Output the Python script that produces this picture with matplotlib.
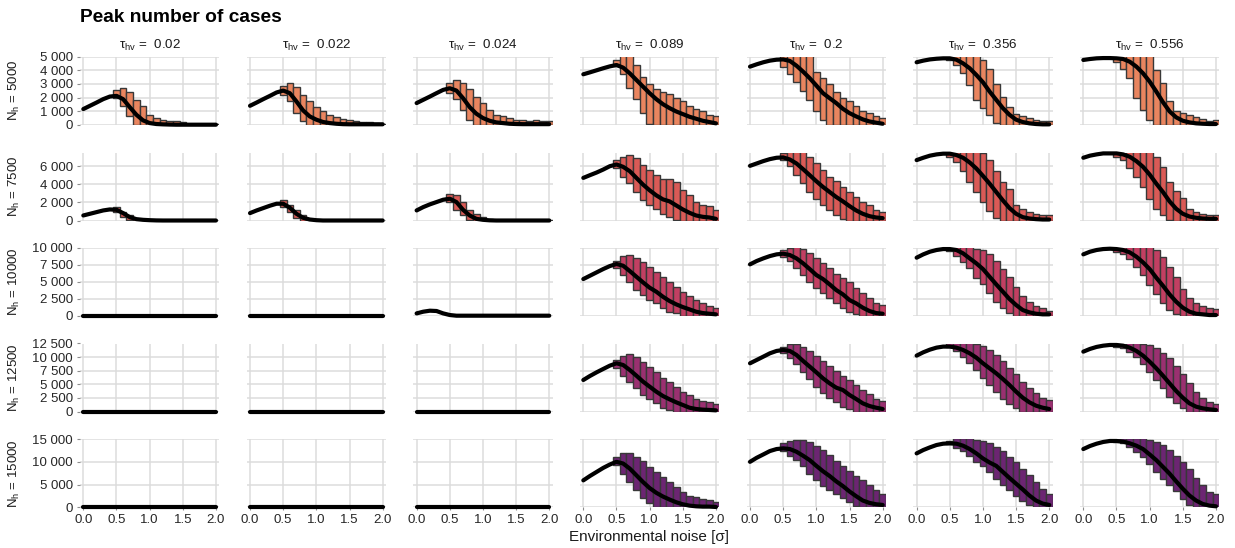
import matplotlib
matplotlib.use("Agg")
import matplotlib.pyplot as plt
from matplotlib.ticker import FuncFormatter

plt.rcParams['font.family'] = ['Liberation Sans', 'DejaVu Sans']
plt.rcParams['mathtext.fontset'] = 'custom'
plt.rcParams['mathtext.rm'] = 'Liberation Sans'
plt.rcParams['mathtext.it'] = 'Liberation Sans:italic'

# ---------------- data ----------------
TAU_LABELS = ["0.02", "0.022", "0.024", "0.089", "0.2", "0.356", "0.556"]
N_H = [5000, 7500, 10000, 12500, 15000]
Y_TICKS = [
    [0, 1000, 2000, 3000, 4000, 5000],
    [0, 2000, 4000, 6000],
    [0, 2500, 5000, 7500, 10000],
    [0, 2500, 5000, 7500, 10000, 12500],
    [0, 5000, 10000, 15000],
]
X_TICKS = [0.0, 0.5, 1.0, 1.5, 2.0]
X_LINE = [0.0, 0.1, 0.2, 0.3, 0.4, 0.5, 0.6, 0.7, 0.8, 0.9, 1.0,
          1.1, 1.2, 1.3, 1.4, 1.5, 1.6, 1.7, 1.8, 1.9, 2.0]
X_BOX = [0.5, 0.6, 0.7, 0.8, 0.9, 1.0, 1.1, 1.2, 1.3, 1.4, 1.5,
         1.6, 1.7, 1.8, 1.9, 2.0]
ZERO_LINE = [0, 0, 0, 0, 0, 0, 0, 0, 0, 0, 0, 0, 0, 0, 0, 0, 0, 0, 0, 0, 0]

# median line per row (N_h) for each tau column
LINE_T002 = [
    [1150, 1390, 1630, 1880, 2070, 2120, 1880, 1290, 730, 320, 120, 50, 25, 10, 0, 0, 0, 0, 0, 0, 0],
    [555, 740, 925, 1110, 1220, 1180, 815, 370, 150, 75, 35, 10, 0, 0, 0, 0, 0, 0, 0, 0, 0],
    ZERO_LINE, ZERO_LINE, ZERO_LINE,
]
LOW_T002 = [
    [1950, 1340, 610, 0, 0, 0, 0, 0, 0, 0, 0, 0, 0, 0, 0, 0],
    [925, 370, 75, 0, 0, 0, 0, 0, 0, 0, 0, 0, 0, 0, 0, 0],
    None, None, None,
]
HIGH_T002 = [
    [2560, 2680, 2370, 1830, 1340, 730, 490, 320, 290, 240, 170, 70, 50, 25, 70, 25],
    [1480, 925, 555, 185, 50, 30, 0, 0, 0, 0, 0, 0, 0, 0, 0, 0],
    None, None, None,
]

LINE_T0022 = [
    [1390, 1630, 1880, 2120, 2370, 2510, 2320, 1710, 1050, 610, 370, 200, 120, 70, 40, 30, 30, 30, 30, 30, 30],
    [815, 1110, 1370, 1630, 1850, 1850, 1410, 740, 300, 110, 35, 0, 0, 0, 0, 0, 0, 0, 0, 0, 0],
    ZERO_LINE, ZERO_LINE, ZERO_LINE,
]
LOW_T0022 = [
    [2200, 1710, 850, 240, 0, 0, 0, 0, 0, 0, 0, 0, 0, 0, 0, 0],
    [1480, 925, 300, 0, 0, 0, 0, 0, 0, 0, 0, 0, 0, 0, 0, 0],
    None, None, None,
]
HIGH_T0022 = [
    [2810, 3050, 2760, 2200, 1710, 1290, 980, 730, 560, 410, 320, 240, 200, 170, 120, 70],
    [2220, 1665, 1110, 555, 185, 50, 20, 0, 0, 0, 0, 0, 0, 0, 0, 0],
    None, None, None,
]

LINE_T0024 = [
    [1590, 1830, 2070, 2320, 2560, 2680, 2510, 1950, 1290, 810, 490, 290, 170, 120, 70, 50, 40, 40, 40, 40, 40],
    [1110, 1480, 1780, 2035, 2290, 2405, 2035, 1180, 555, 185, 75, 20, 0, 0, 0, 0, 0, 0, 0, 0, 0],
    [340, 590, 735, 690, 340, 100, 0, 0, 0, 0, 0, 0, 0, 0, 0, 0, 0, 0, 0, 0, 0],
    ZERO_LINE, ZERO_LINE,
]
LOW_T0024 = [
    [2320, 1880, 1100, 370, 0, 0, 0, 0, 0, 0, 0, 0, 0, 0, 0, 0],
    [2035, 1110, 555, 75, 0, 0, 0, 0, 0, 0, 0, 0, 0, 0, 0, 0],
    None, None, None,
]
HIGH_T0024 = [
    [3050, 3290, 3050, 2610, 2070, 1590, 1100, 730, 610, 490, 370, 320, 240, 370, 290, 240],
    [2885, 2775, 2035, 1180, 665, 370, 185, 110, 50, 50, 40, 40, 30, 30, 30, 30],
    None, None, None,
]

LINE_T0089 = [
    [3707, 3850, 4000, 4150, 4290, 4390, 4195, 3780, 3290, 2800, 2317, 1880, 1510, 1220, 975, 780, 585, 440, 290, 195, 100],
    [4700, 5000, 5290, 5620, 5990, 6180, 5920, 5440, 4700, 3960, 3330, 2775, 2330, 2110, 1665, 1220, 850, 555, 407, 333, 185],
    [5390, 5880, 6370, 6860, 7300, 7600, 7350, 6570, 5730, 4900, 4120, 3530, 2790, 2160, 1670, 1270, 930, 590, 390, 290, 200],
    [5790, 6530, 7200, 7820, 8430, 8860, 8550, 7630, 6590, 5490, 4570, 3650, 2850, 2240, 1690, 1200, 700, 460, 340, 280, 210],
    [5940, 6910, 7800, 8690, 9440, 10030, 9660, 8540, 7060, 5570, 4240, 3200, 2380, 1710, 1110, 670, 370, 220, 150, 150, 70],
]
LOW_T0089 = [
    [4340, 3700, 2730, 1900, 850, 50, 0, 0, 0, 0, 0, 0, 0, 0, 0, 0],
    [5810, 4810, 4180, 3145, 2220, 1740, 1295, 740, 370, 110, 0, 0, 0, 0, 0, 0],
    [7060, 5980, 4900, 3770, 3040, 2300, 1810, 1080, 590, 340, 0, 0, 0, 0, 0, 0],
    [8060, 6590, 5490, 4260, 3040, 2300, 1500, 700, 280, 0, 0, 0, 0, 0, 0, 0],
    [9440, 7430, 5570, 3720, 2010, 970, 0, 0, 0, 0, 0, 0, 0, 0, 0, 0],
]
HIGH_T0089 = [
    [4780, 5300, 5300, 4390, 3540, 2980, 2630, 2440, 2240, 1950, 1760, 1340, 1170, 975, 730, 610],
    [6660, 7030, 7215, 6845, 6100, 5550, 5070, 4625, 4550, 4255, 3330, 2775, 2035, 1740, 1590, 1110],
    [8040, 8770, 8920, 8530, 7940, 7200, 6470, 5730, 4900, 4260, 3530, 2940, 2300, 1810, 1420, 1180],
    [9470, 10270, 10510, 9960, 9160, 8250, 7200, 6220, 5360, 4570, 3650, 3040, 2300, 1930, 1690, 1320],
    [11150, 11890, 11890, 11150, 10180, 8920, 7800, 6690, 5570, 4460, 3340, 2600, 2230, 1860, 1710, 1260],
]

LINE_T02 = [
    [4270, 4440, 4590, 4710, 4780, 4800, 4690, 4340, 3900, 3420, 2880, 2320, 1950, 1590, 1170, 850, 610, 390, 240, 150, 70],
    [6030, 6290, 6550, 6770, 6920, 6960, 6730, 6290, 5660, 5000, 4330, 3700, 3145, 2590, 2110, 1590, 1110, 740, 480, 333, 260],
    [7550, 8040, 8430, 8770, 9020, 9120, 8920, 8430, 7700, 6860, 5980, 5390, 4610, 3770, 3140, 2300, 1810, 1180, 690, 390, 290],
    [8860, 9470, 10080, 10700, 11130, 11310, 11130, 10390, 9290, 8250, 7200, 6100, 5180, 4380, 3950, 3040, 2300, 1500, 1010, 700, 460],
    [10030, 10920, 11660, 12410, 12850, 13000, 12850, 12260, 11370, 10400, 9140, 7950, 6910, 5720, 4680, 3490, 2450, 1490, 970, 670, 520],
]
LOW_T02 = [
    [4270, 3710, 3120, 2490, 1830, 980, 370, 0, 0, 0, 0, 0, 0, 0, 0, 0],
    [6660, 6030, 5070, 4180, 3145, 2330, 1665, 1110, 555, 185, 0, 0, 0, 0, 0, 0],
    [8680, 8040, 7060, 5980, 5000, 4020, 3280, 2550, 1810, 1180, 590, 200, 0, 0, 0, 0],
    [10700, 9780, 8680, 7330, 5980, 4570, 3340, 2540, 1690, 890, 460, 0, 0, 0, 0, 0],
    [12410, 11370, 10400, 9140, 7430, 5940, 4680, 3720, 2970, 2010, 1110, 370, 0, 0, 0, 0],
]
HIGH_T02 = [
    [5300, 5300, 5300, 5300, 5300, 3900, 3420, 2980, 2440, 2000, 1710, 1340, 980, 850, 610, 490],
    [7400, 7800, 7800, 7800, 7030, 6290, 5550, 4810, 4330, 3700, 3145, 2590, 2035, 1665, 1110, 925],
    [9660, 9900, 10200, 9800, 9170, 8530, 7700, 7060, 6080, 5490, 4900, 4020, 3280, 2550, 1810, 1570],
    [11930, 12350, 12400, 11930, 11130, 10270, 9290, 8430, 7450, 6590, 5790, 4870, 3950, 3160, 2300, 1930],
    [14110, 14630, 14850, 14850, 14330, 13590, 12630, 11520, 10180, 9140, 7950, 6910, 5940, 4830, 3720, 2970],
]

LINE_T0356 = [
    [4590, 4710, 4800, 4850, 4880, 4880, 4780, 4510, 4150, 3660, 3120, 2440, 1830, 1220, 730, 370, 195, 100, 50, 25, 25],
    [6660, 6920, 7150, 7290, 7370, 7370, 7220, 6920, 6400, 5740, 4920, 4070, 3145, 2220, 1370, 740, 370, 220, 150, 110, 110],
    [8530, 9020, 9410, 9660, 9800, 9800, 9660, 9170, 8430, 7700, 6860, 5730, 4610, 3530, 2450, 1570, 830, 490, 290, 200, 200],
    [10270, 10880, 11370, 11740, 11930, 11930, 11740, 11310, 10700, 9900, 8860, 7940, 7020, 5980, 4870, 3650, 2540, 1690, 1070, 700, 460],
    [11890, 12630, 13220, 13740, 14030, 14110, 14030, 13590, 12850, 11890, 10770, 9880, 9140, 7800, 6470, 5200, 3940, 2600, 1490, 820, 520],
]
LOW_T0356 = [
    [4760, 4390, 3780, 2930, 1830, 1220, 680, 120, 0, 0, 0, 0, 0, 0, 0, 0],
    [7030, 6475, 5440, 4255, 3145, 2035, 1000, 260, 0, 0, 0, 0, 0, 0, 0, 0],
    [9510, 8820, 7840, 7060, 5490, 4610, 3280, 2060, 1080, 340, 0, 0, 0, 0, 0, 0],
    [11930, 11130, 10080, 8860, 7630, 6220, 4870, 3650, 2300, 1320, 580, 0, 0, 0, 0, 0],
    [13890, 13000, 12410, 11370, 10030, 9140, 7800, 6310, 4980, 3720, 2450, 1490, 520, 0, 0, 0],
]
HIGH_T0356 = [
    [5300, 5300, 5300, 5300, 5300, 4760, 4100, 2980, 2070, 1270, 780, 610, 490, 370, 290, 240],
    [7800, 7800, 7800, 7800, 7800, 7400, 6660, 5440, 4255, 3515, 1740, 1295, 925, 740, 630, 555],
    [10200, 10200, 10200, 10200, 9800, 9660, 9020, 8040, 6860, 5730, 4260, 2940, 2060, 1470, 1080, 690],
    [12800, 12800, 12800, 12800, 12350, 12100, 11310, 10390, 9290, 8060, 6840, 5490, 4260, 3340, 2540, 2110],
    [14630, 15300, 15300, 15300, 14850, 14630, 14110, 13370, 12410, 11150, 10030, 8540, 7060, 5570, 4090, 2970],
]

LINE_T0556 = [
    [4760, 4830, 4880, 4900, 4900, 4880, 4830, 4630, 4270, 3780, 3170, 2440, 1660, 980, 540, 290, 170, 100, 70, 50, 50],
    [6920, 7150, 7290, 7400, 7400, 7400, 7290, 7030, 6550, 5920, 5070, 4070, 3145, 2110, 1295, 740, 440, 300, 220, 185, 185],
    [9020, 9410, 9660, 9800, 9850, 9800, 9660, 9310, 8680, 7840, 6860, 5590, 4410, 3140, 2060, 1180, 590, 290, 200, 100, 100],
    [11000, 11500, 11870, 12100, 12230, 12230, 12100, 11740, 11130, 10270, 9160, 7940, 6590, 5180, 3770, 2540, 1500, 890, 580, 400, 280],
    [12850, 13520, 14030, 14410, 14630, 14630, 14480, 14110, 13590, 12850, 11660, 10400, 8920, 7430, 5720, 4090, 2600, 1490, 740, 370, 220],
]
LOW_T0556 = [
    [4630, 4100, 3420, 2000, 1100, 370, 0, 0, 0, 0, 0, 0, 0, 0, 0, 0],
    [7030, 6660, 5810, 4810, 3700, 2405, 1295, 555, 110, 0, 0, 0, 0, 0, 0, 0],
    [9410, 9020, 8330, 7200, 5980, 4510, 3140, 1810, 830, 200, 0, 0, 0, 0, 0, 0],
    [11930, 11620, 11000, 10080, 8680, 7200, 5790, 4260, 2720, 1500, 580, 0, 0, 0, 0, 0],
    [14480, 14110, 13370, 12110, 11150, 9660, 7800, 6310, 4830, 3490, 1860, 520, 0, 0, 0, 0],
]
HIGH_T0556 = [
    [4930, 5300, 5300, 5300, 5300, 5300, 4030, 3050, 1710, 1020, 850, 730, 540, 440, 290, 370],
    [7800, 7800, 7800, 7800, 7800, 7800, 7030, 5920, 4255, 3220, 2480, 1295, 925, 740, 630, 555],
    [10200, 10200, 10200, 10200, 10200, 10200, 9660, 8680, 7200, 5730, 3920, 2550, 1810, 1470, 1080, 980],
    [12800, 12800, 12800, 12800, 12350, 12230, 11620, 10700, 9780, 8430, 6840, 5180, 3650, 2420, 1810, 1320],
    [15300, 15300, 15300, 15300, 15300, 14850, 14480, 13740, 12630, 11370, 10030, 8400, 6460, 4830, 3340, 2970],
]

LINES = [LINE_T002, LINE_T0022, LINE_T0024, LINE_T0089, LINE_T02, LINE_T0356, LINE_T0556]
LOWS = [LOW_T002, LOW_T0022, LOW_T0024, LOW_T0089, LOW_T02, LOW_T0356, LOW_T0556]
HIGHS = [HIGH_T002, HIGH_T0022, HIGH_T0024, HIGH_T0089, HIGH_T02, HIGH_T0356, HIGH_T0556]

ROW_COLORS = ['#E9855F', '#DA5A56', '#C23F62', '#9A3070', '#6C2572']

# ---------------- layout ----------------
W, H = 1235, 548
fig = plt.figure(figsize=(W / 100, H / 100), dpi=100)
col_left = [80, 246.7, 413.3, 580, 746.7, 913.3, 1080]
panel_w = 139.3
row_top = [56.7, 152.5, 247.7, 343.5, 439.3]
panel_h = 68

fmt = FuncFormatter(lambda v, p: f"{int(round(v)):,}".replace(",", " "))
grid_col = '#DCDCDC'
text_col = '#262626'

for r in range(5):
    for c in range(7):
        ax = fig.add_axes([col_left[c] / W, 1 - (row_top[r] + panel_h) / H,
                           panel_w / W, panel_h / H])
        ax.set_xlim(-0.05, 2.05)
        ax.set_ylim(0, N_H[r])
        for s in ax.spines.values():
            s.set_visible(False)
        ax.set_xticks(X_TICKS)
        ax.set_yticks(Y_TICKS[r])
        ax.grid(True, color=grid_col, linewidth=1.1)
        ax.set_axisbelow(True)
        ax.tick_params(length=2.5, width=0.8, color='#8C8C8C', labelsize=9.5,
                       labelcolor=text_col, pad=2.5)
        if c == 0:
            ax.yaxis.set_major_formatter(fmt)
        else:
            ax.tick_params(axis='y', left=False, labelleft=False)
        if r == 4:
            ax.xaxis.set_major_formatter(FuncFormatter(lambda v, p: f"{v:.1f}"))
        else:
            ax.tick_params(axis='x', bottom=False, labelbottom=False)

        low = LOWS[c][r]
        high = HIGHS[c][r]
        if low is not None:
            heights = [h - l for h, l in zip(high, low)]
            ax.bar(X_BOX, heights, bottom=low, width=0.1, color=ROW_COLORS[r],
                   edgecolor='#383838', linewidth=1.0, zorder=2)
        ax.plot(X_LINE, LINES[c][r], color='black', linewidth=3.0,
                solid_capstyle='round', solid_joinstyle='round',
                zorder=3, clip_on=False)

# strip labels
for c in range(7):
    fig.text((col_left[c] + panel_w / 2) / W, 1 - 45.5 / H,
             r'$\mathrm{\tau}_{\mathrm{hv}}$ =  ' + TAU_LABELS[c],
             ha='center', va='center', fontsize=9.6, color='#1A1A1A')

# row labels
for r in range(5):
    fig.text(14 / W, 1 - (row_top[r] + panel_h / 2) / H,
             r'$\mathrm{N}_{\mathrm{h}}$ = ' + str(N_H[r]),
             rotation=90, ha='center', va='center', fontsize=9.5, color='#1A1A1A')

fig.text(80 / W, 1 - 18 / H, 'Peak number of cases', ha='left', va='center',
         fontsize=13.8, fontweight='bold', color='black')
fig.text(649 / W, 1 - 537 / H, 'Environmental noise [σ]', ha='center',
         va='center', fontsize=11, color='#1A1A1A')

fig.savefig('out.png', dpi=100, facecolor='white')
